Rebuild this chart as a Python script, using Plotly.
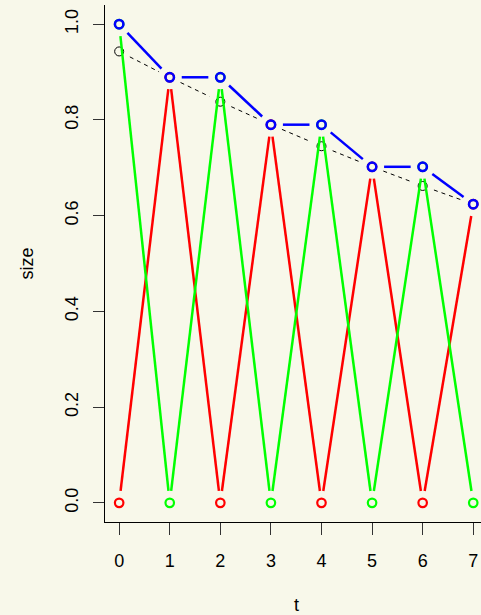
import math
import plotly.graph_objects as go

# ---- data ----
t = [0, 1, 2, 3, 4, 5, 6, 7]
blue_size = [1.0, 0.889, 0.889, 0.790, 0.790, 0.702, 0.702, 0.624]
red_size = [0.0, 0.889, 0.0, 0.790, 0.0, 0.702, 0.0, 0.624]
green_size = [1.0, 0.0, 0.889, 0.0, 0.790, 0.0, 0.702, 0.0]
black_size = [0.943, 0.889, 0.838, 0.790, 0.745, 0.702, 0.662, 0.624]
x_ticks = [0, 1, 2, 3, 4, 5, 6, 7]
y_ticks = [0.0, 0.2, 0.4, 0.6, 0.8, 1.0]

# ---- layout geometry ----
W, H = 481, 615
ML, MR, MT, MB = 105, 0, 5, 93
PW, PH = W - ML - MR, H - MT - MB
X_PER_PX = 7.56 / 382.4          # R-style range (-0.28..7.28) over full region
XMIN = -0.28
XMAX = XMIN + PW * X_PER_PX
YMIN, YMAX = -0.04, 1.04
BG = "#F8F8EA"

sx = PW / (XMAX - XMIN)
sy = PH / (YMAX - YMIN)


def gapped(xs, ys, gap=12.0):
    """type='b' style line segments that stop short of the points."""
    X, Y = [], []
    for i in range(len(xs) - 1):
        dx = xs[i + 1] - xs[i]
        dy = ys[i + 1] - ys[i]
        L = math.hypot(dx * sx, dy * sy)
        if L <= 2 * gap:
            continue
        f = gap / L
        X += [xs[i] + f * dx, xs[i + 1] - f * dx, None]
        Y += [ys[i] + f * dy, ys[i + 1] - f * dy, None]
    return X, Y


fig = go.Figure()


def add_series(ys, color, lw, msize, mlw, dash="solid"):
    gx, gy = gapped(t, ys)
    fig.add_trace(go.Scatter(x=gx, y=gy, mode="lines",
                             line=dict(color=color, width=lw, dash=dash),
                             hoverinfo="skip", showlegend=False))
    fig.add_trace(go.Scatter(x=t, y=ys, mode="markers",
                             marker=dict(symbol="circle-open", size=msize,
                                         color=color, line=dict(color=color, width=mlw)),
                             showlegend=False))


add_series(black_size, "black", 1, 9, 1, dash="4px,4px")
add_series(red_size, "#FF0000", 2.5, 8.5, 2.2)
add_series(green_size, "#00FF00", 2.5, 8.5, 2.2)
add_series(blue_size, "#0000FF", 2.5, 8.5, 2.5)

font = dict(family="Liberation Sans, Arial, sans-serif", size=18, color="black")

fig.update_layout(
    width=W, height=H,
    margin=dict(l=ML, r=MR, t=MT, b=MB, pad=0),
    paper_bgcolor=BG, plot_bgcolor=BG,
    font=font,
    showlegend=False,
    xaxis=dict(range=[XMIN, XMAX], tickvals=x_ticks, ticktext=[str(v) for v in x_ticks],
               showgrid=False, zeroline=False, showline=True, linecolor="black", linewidth=1,
               ticks="outside", ticklen=12, tickcolor="#333", tickwidth=1,
               ticklabelstandoff=10, tickfont=font),
    yaxis=dict(range=[YMIN, YMAX], tickvals=y_ticks, ticktext=[f"{v:.1f}" for v in y_ticks],
               showgrid=False, zeroline=False, showline=True, linecolor="black", linewidth=1,
               ticks="outside", ticklen=11, tickcolor="#333", tickwidth=1,
               tickangle=-90, ticklabelstandoff=8, tickfont=font),
    annotations=[
        dict(text="t", x=3.5, xref="x", y=0, yref="paper", xanchor="center", yanchor="middle",
             yshift=-83, showarrow=False, font=font),
        dict(text="size", x=0, xref="paper", xanchor="center", xshift=-79, y=0.5, yref="paper",
             yanchor="middle", textangle=-90, showarrow=False, font=font),
    ],
)

fig.write_html("out.html", config={"displayModeBar": False},
               post_script="document.body.style.margin='0px';document.body.style.overflow='hidden';")
